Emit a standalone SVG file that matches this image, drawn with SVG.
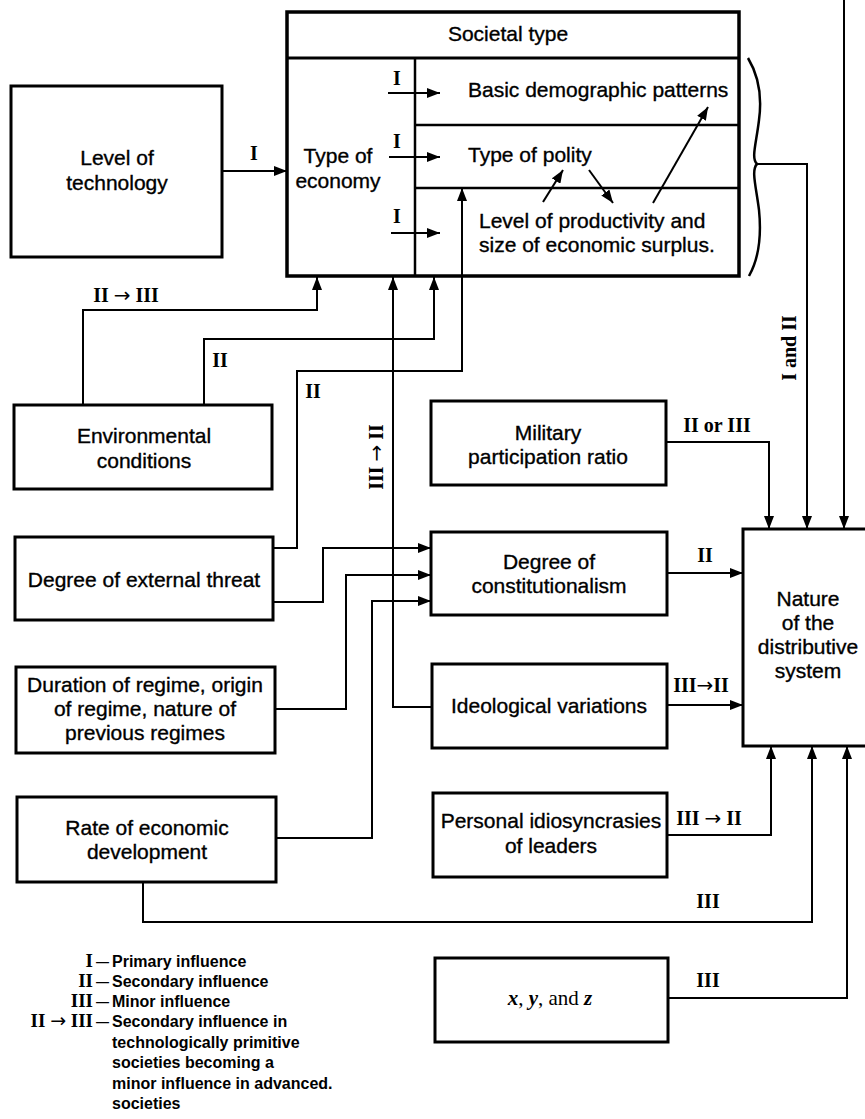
<svg xmlns="http://www.w3.org/2000/svg" width="865" height="1119" viewBox="0 0 865 1119">
<defs>
<style>
.bx{fill:#fff;stroke:#000;stroke-width:3}
.dv{fill:none;stroke:#000;stroke-width:2.5}
.cn{fill:none;stroke:#000;stroke-width:2}
.t{font-family:"Liberation Sans",Arial,sans-serif;font-size:21px;fill:#000;stroke:#000;stroke-width:0.35}
.c{text-anchor:middle}
.r{font-family:"Liberation Serif","Times New Roman",serif;font-weight:bold;font-size:20px;fill:#000}
.ar{font-family:"DejaVu Sans",sans-serif;font-weight:normal}
.lg{font-family:"Liberation Sans",Arial,sans-serif;font-weight:bold;font-size:16px;fill:#000}
.lr{font-family:"Liberation Serif","Times New Roman",serif;font-weight:bold;font-size:19px;fill:#000;text-anchor:end}
</style>
<marker id="ah" markerWidth="13" markerHeight="10" refX="13" refY="5" orient="auto" markerUnits="userSpaceOnUse"><path d="M0,0 L13,5 L0,10 z" fill="#000"/></marker>
</defs>
<rect width="865" height="1119" fill="#fff"/>

<g id="societal-type">
<rect class="bx" x="287" y="12" width="452" height="264" style="stroke-width:3.5"/>
<line class="dv" x1="287" y1="58" x2="739" y2="58" style="stroke-width:3"/>
<line class="dv" x1="415" y1="58" x2="415" y2="276"/>
<line class="dv" x1="415" y1="125" x2="739" y2="125"/>
<line class="dv" x1="415" y1="188" x2="739" y2="188"/>
<text class="t c" x="508" y="41">Societal type</text>
<text class="t c" x="338" y="163">Type of</text>
<text class="t c" x="338" y="188">economy</text>
<text class="t" x="468" y="97">Basic demographic patterns</text>
<text class="t" x="468" y="162">Type of polity</text>
<text class="t" x="479" y="228">Level of productivity and</text>
<text class="t" x="479" y="252">size of economic surplus.</text>
<path d="M748,58 C760,78 762,98 759,120 C756,145 751,158 757,164 C751,170 756,186 759,210 C762,240 758,260 749,276" fill="none" stroke="#000" stroke-width="2.5"/>
</g>

<g id="level-of-technology">
<rect class="bx" x="11" y="86" width="211" height="171"/>
<text class="t c" x="117" y="165">Level of</text>
<text class="t c" x="117" y="190">technology</text>
</g>

<g id="environmental-conditions">
<rect class="bx" x="14" y="405" width="258" height="84"/>
<text class="t c" x="144" y="443">Environmental</text>
<text class="t c" x="144" y="468">conditions</text>
</g>

<g id="external-threat">
<rect class="bx" x="15" y="537" width="258" height="83"/>
<text class="t c" x="144" y="587">Degree of external threat</text>
</g>

<g id="duration-of-regime">
<rect class="bx" x="16" y="667" width="259" height="86"/>
<text class="t c" x="145" y="692">Duration of regime, origin</text>
<text class="t c" x="145" y="716">of regime, nature of</text>
<text class="t c" x="145" y="740">previous regimes</text>
</g>

<g id="rate-of-development">
<rect class="bx" x="17" y="797" width="259" height="85"/>
<text class="t c" x="147" y="835">Rate of economic</text>
<text class="t c" x="147" y="859">development</text>
</g>

<g id="military-participation">
<rect class="bx" x="431" y="401" width="235" height="84"/>
<text class="t c" x="548" y="440">Military</text>
<text class="t c" x="548" y="464">participation ratio</text>
</g>

<g id="constitutionalism">
<rect class="bx" x="431" y="532" width="236" height="83"/>
<text class="t c" x="549" y="569">Degree of</text>
<text class="t c" x="549" y="593">constitutionalism</text>
</g>

<g id="ideological-variations">
<rect class="bx" x="432" y="664" width="235" height="84"/>
<text class="t c" x="549" y="713">Ideological variations</text>
</g>

<g id="personal-idiosyncrasies">
<rect class="bx" x="433" y="793" width="234" height="84"/>
<text class="t c" x="551" y="828">Personal idiosyncrasies</text>
<text class="t c" x="551" y="853">of leaders</text>
</g>

<g id="xyz">
<rect class="bx" x="435" y="958" width="233" height="84"/>
<text x="550" y="1005" text-anchor="middle" style="font-family:'Liberation Serif','Times New Roman',serif;font-size:21px;fill:#000"><tspan font-style="italic" font-weight="bold">x</tspan>, <tspan font-style="italic" font-weight="bold">y</tspan>, and <tspan font-style="italic" font-weight="bold">z</tspan></text>
</g>

<g id="nature-distributive-system">
<rect class="bx" x="743" y="529" width="130" height="217"/>
<text class="t c" x="808" y="606">Nature</text>
<text class="t c" x="808" y="630">of the</text>
<text class="t c" x="808" y="654">distributive</text>
<text class="t c" x="808" y="678">system</text>
</g>

<g id="connectors">
<path class="cn" d="M222,171 H287" marker-end="url(#ah)"/>
<path class="cn" d="M388,93 H440" marker-end="url(#ah)"/>
<path class="cn" d="M389,157 H440" marker-end="url(#ah)"/>
<path class="cn" d="M391,233 H440" marker-end="url(#ah)"/>
<path class="cn" d="M543,202 L563,170" marker-end="url(#ah)"/>
<path class="cn" d="M589,170 L613,203" marker-end="url(#ah)"/>
<path class="cn" d="M653,203 L708,107" marker-end="url(#ah)"/>
<path class="cn" d="M83,405 V310 H317 V277" marker-end="url(#ah)"/>
<path class="cn" d="M204,405 V339 H434 V277" marker-end="url(#ah)"/>
<path class="cn" d="M273,548 H297 V371 H462 V188" marker-end="url(#ah)"/>
<path class="cn" d="M432,707 H393 V277" marker-end="url(#ah)"/>
<path class="cn" d="M273,602 H323 V548 H431" marker-end="url(#ah)"/>
<path class="cn" d="M275,709 H346 V575 H431" marker-end="url(#ah)"/>
<path class="cn" d="M276,838 H372 V601 H431" marker-end="url(#ah)"/>
<path class="cn" d="M143,882 V922 H812 V746" marker-end="url(#ah)"/>
<path class="cn" d="M666,442 H769 V529" marker-end="url(#ah)"/>
<path class="cn" d="M667,573 H743" marker-end="url(#ah)"/>
<path class="cn" d="M667,705 H743" marker-end="url(#ah)"/>
<path class="cn" d="M667,835 H771 V746" marker-end="url(#ah)"/>
<path class="cn" d="M668,998 H847 V746" marker-end="url(#ah)"/>
<path class="cn" d="M757,164 H807 V529" marker-end="url(#ah)"/>
<path class="cn" d="M844,0 V529" marker-end="url(#ah)"/>

<text class="r" x="397" y="85" text-anchor="middle">I</text>
<text class="r" x="397" y="148" text-anchor="middle">I</text>
<text class="r" x="397" y="223" text-anchor="middle">I</text>
<text class="r" x="254" y="160" text-anchor="middle">I</text>
<text class="r" x="126" y="302" text-anchor="middle">II <tspan class="ar">→</tspan> III</text>
<text class="r" x="220" y="367" text-anchor="middle">II</text>
<text class="r" x="313" y="398" text-anchor="middle">II</text>
<text class="r" text-anchor="middle" transform="translate(383,457) rotate(-90)">III <tspan class="ar">→</tspan> II</text>
<text class="r" text-anchor="middle" transform="translate(796,348) rotate(-90)">I and II</text>
<text class="r" x="717" y="432" text-anchor="middle">II or III</text>
<text class="r" x="705" y="562" text-anchor="middle">II</text>
<text class="r" x="701" y="692" text-anchor="middle">III<tspan class="ar">→</tspan>II</text>
<text class="r" x="709" y="825" text-anchor="middle">III <tspan class="ar">→</tspan> II</text>
<text class="r" x="708" y="908" text-anchor="middle">III</text>
<text class="r" x="708" y="987" text-anchor="middle">III</text>
</g>

<g id="legend">
<text class="lr" x="93" y="967">I</text>
<text class="lr" x="93" y="987">II</text>
<text class="lr" x="93" y="1007">III</text>
<text class="lr" x="93" y="1027">II <tspan class="ar">→</tspan> III</text>
<text class="lg" x="96" y="966" style="font-size:13px">—</text>
<text class="lg" x="96" y="986" style="font-size:13px">—</text>
<text class="lg" x="96" y="1006" style="font-size:13px">—</text>
<text class="lg" x="96" y="1026" style="font-size:13px">—</text>
<text class="lg" x="112" y="967">Primary influence</text>
<text class="lg" x="112" y="987">Secondary influence</text>
<text class="lg" x="112" y="1007">Minor influence</text>
<text class="lg" x="112" y="1027">Secondary influence in</text>
<text class="lg" x="112" y="1048">technologically primitive</text>
<text class="lg" x="112" y="1068">societies becoming a</text>
<text class="lg" x="112" y="1089">minor influence in advanced.</text>
<text class="lg" x="112" y="1109">societies</text>
</g>
</svg>
